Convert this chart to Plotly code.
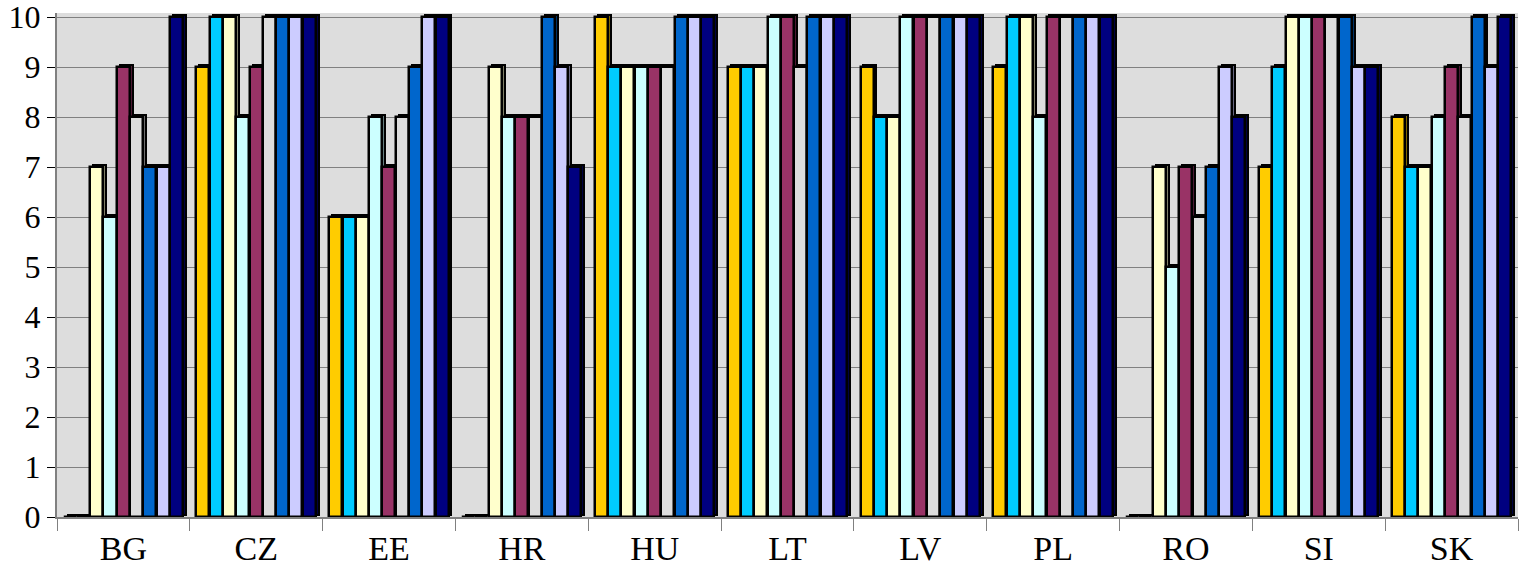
import plotly.graph_objects as go

categories = ["BG", "CZ", "EE", "HR", "HU", "LT", "LV", "PL", "RO", "SI", "SK"]

s1 = [0, 9, 6, 0, 10, 9, 9, 9, 0, 7, 8]
s2 = [0, 10, 6, 0, 9, 9, 8, 10, 0, 9, 7]
s3 = [7, 10, 6, 9, 9, 9, 8, 10, 7, 10, 7]
s4 = [6, 8, 8, 8, 9, 10, 10, 8, 5, 10, 8]
s5 = [9, 9, 7, 8, 9, 10, 10, 10, 7, 10, 9]
s6 = [8, 10, 8, 8, 9, 9, 10, 10, 6, 10, 8]
s7 = [7, 10, 9, 10, 10, 10, 10, 10, 7, 10, 10]
s8 = [7, 10, 10, 9, 10, 10, 10, 10, 9, 9, 9]
s9 = [10, 10, 10, 7, 10, 10, 10, 10, 8, 9, 10]

series = [s1, s2, s3, s4, s5, s6, s7, s8, s9]
colors = ["#FFCC00", "#00CCFF", "#FFFFCC", "#CCFFFF", "#993366",
          "#DDDDDD", "#0066CC", "#CCCCFF", "#000080"]
shadow = ["#7F6600", "#00667F", "#7F7F66", "#667F7F", "#4C1933",
          "#6E6E6E", "#003366", "#66667F", "#000040"]

n = len(series)
slot = 0.9 / n
w = slot * 0.98

fig = go.Figure()
for i, (vals, c, sc) in enumerate(zip(series, colors, shadow)):
    off = -0.45 + i * slot
    # depth / side face
    fig.add_trace(go.Bar(
        x=categories, y=vals, base=0.05, offset=off + 0.022, width=w,
        marker=dict(color=sc, line=dict(color="black", width=2)),
        showlegend=False, hoverinfo="skip", cliponaxis=False))
    fig.add_trace(go.Bar(
        x=categories, y=vals, offset=off, width=w,
        marker=dict(color=c, line=dict(color="black", width=2.5)),
        showlegend=False, cliponaxis=False))

fig.update_layout(
    barmode="overlay",
    width=1526, height=570,
    margin=dict(l=57, r=8, t=13, b=53),
    paper_bgcolor="white",
    plot_bgcolor="#DDDDDD",
    font=dict(family="Liberation Serif", size=33, color="black"),
    xaxis=dict(
        type="category", showgrid=False, showline=True, linecolor="#808080",
        linewidth=2, ticks="outside", ticklen=12, tickcolor="#808080",
        tickson="boundaries", tickfont=dict(size=34), mirror=False,
        automargin=False,
    ),
    yaxis=dict(
        range=[0, 10.08], tickvals=list(range(0, 11)), showgrid=True,
        gridcolor="#808080", ticklabeloverflow="allow",
        gridwidth=1, showline=True, linecolor="#808080", linewidth=2,
        ticks="outside", ticklen=8, tickcolor="black",
        tickfont=dict(size=32), zeroline=False, automargin=False,
    ),
    bargap=0,
)
fig.write_html("out.html")
